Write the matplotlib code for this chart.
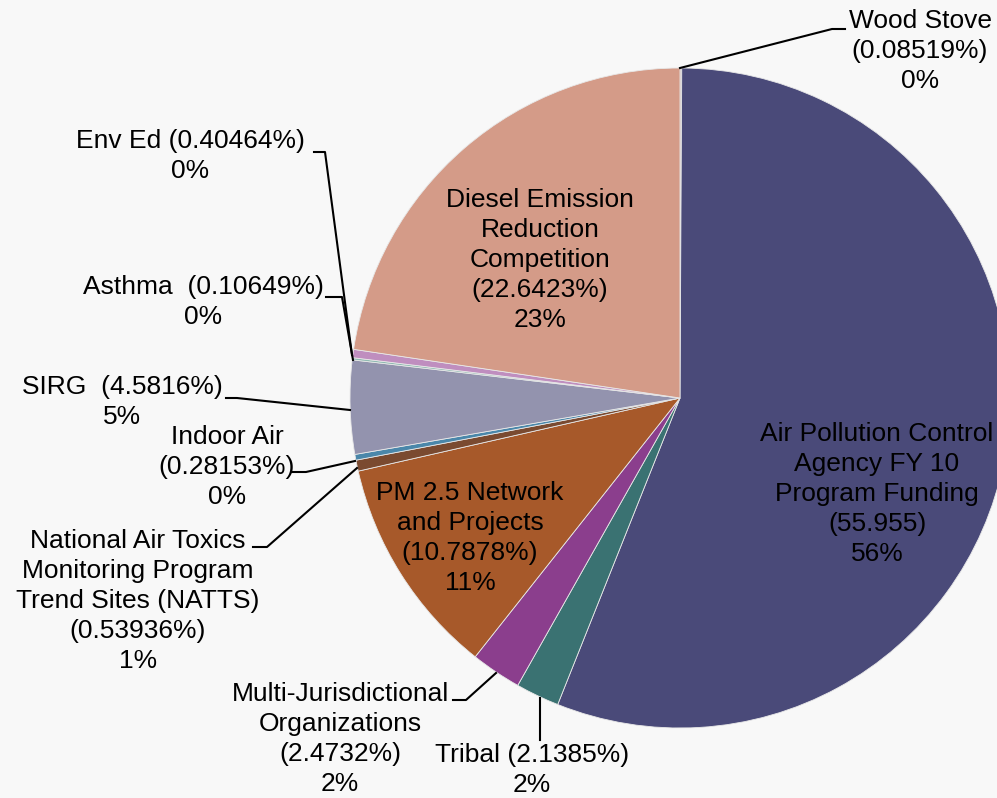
import matplotlib.pyplot as plt

plt.rcParams['font.family'] = ['Liberation Sans', 'DejaVu Sans']

names = ["Wood Stove", "Air Pollution Control\nAgency FY 10\nProgram Funding", "Tribal",
         "Multi-Jurisdictional\nOrganizations", "PM 2.5 Network\nand Projects",
         "National Air Toxics\nMonitoring Program\nTrend Sites (NATTS)", "Indoor Air",
         "SIRG", "Asthma", "Env Ed", "Diesel Emission\nReduction\nCompetition"]
values = [0.08519, 55.955, 2.1385, 2.4732, 10.7878, 0.53936, 0.28153,
          4.5816, 0.10649, 0.40464, 22.6423]
value_text = ["0.08519%", "55.955", "2.1385%", "2.4732%", "10.7878%", "0.53936%",
              "0.28153%", "4.5816%", "0.10649%", "0.40464%", "22.6423%"]
colors = ["#c9b0ac", "#4a4a79", "#3a7272", "#8b3e8d", "#a7592a", "#7a4a30",
          "#4a87aa", "#9393ae", "#90bab2", "#bf8ebf", "#d49b88"]

# label text: name (value) + rounded percent
total = sum(values)
labels = []
for n, v, t in zip(names, values, value_text):
    pct = "%d%%" % round(v / total * 100)
    labels.append((n, t, pct))

fig = plt.figure(figsize=(9.97, 7.98), dpi=100)
fig.patch.set_facecolor("#f8f8f8")
ax = fig.add_axes([0, 0, 1, 1])

# pie drawn in pixel coordinates (y axis pointing down -> use counterclock=True)
ax.pie(values, colors=colors, startangle=-90, counterclock=True,
       center=(680, 398), radius=330, frame=True,
       wedgeprops=dict(edgecolor="#e8e8e8", linewidth=0.6))
ax.set_xlim(0, 997)
ax.set_ylim(798, 0)
ax.set_aspect("equal")
ax.axis("off")

fs = 19
ls = 1.32

def txt(x, y, s):
    ax.text(x, y, s, ha="center", va="center", fontsize=fs, linespacing=ls, color="black")

# text positions (centre of block) and leader lines
txt(920, 51, "Wood Stove\n(%s)\n%s" % (labels[0][1], labels[0][2]))
ax.plot([680, 832, 845], [68, 29, 29], color="black", lw=1.5)

n, t, p = labels[1]
txt(877, 494, "%s\n(%s)\n%s" % (n, t, p))

n, t, p = labels[2]
txt(532, 770, "%s (%s)\n%s" % (n, t, p))
ax.plot([540, 540], [740, 698], color="black", lw=1.5)

n, t, p = labels[3]
txt(340, 739, "%s\n(%s)\n%s" % (n, t, p))
ax.plot([453, 466, 496], [700, 700, 673], color="black", lw=1.5)

n, t, p = labels[4]
txt(470, 538, "%s\n(%s)\n%s" % (n, t, p))

n, t, p = labels[5]
txt(138, 601, "%s\n(%s)\n%s" % (n, t, p))
ax.plot([253, 267, 357], [547, 547, 468], color="black", lw=1.5)

n, t, p = labels[6]
txt(227, 467, "%s\n(%s)\n%s" % (n, t, p))
ax.plot([292, 306, 355], [472, 472, 461], color="black", lw=1.5)

n, t, p = labels[7]
txt(122, 402, "%s  (%s)\n%s" % (n, t, p))
ax.plot([226, 237, 350], [398, 398, 410], color="black", lw=1.5)

n, t, p = labels[8]
txt(203, 302, "%s  (%s)\n%s" % (n, t, p))
ax.plot([326, 342, 353], [297, 297, 360], color="black", lw=1.5)

n, t, p = labels[9]
txt(190, 156, "%s (%s)\n%s" % (n, t, p))
ax.plot([314, 325, 352], [152, 152, 355], color="black", lw=1.5)

n, t, p = labels[10]
txt(540, 260, "%s\n(%s)\n%s" % (n, t, p))

fig.savefig("out.png", dpi=100, facecolor=fig.get_facecolor())
